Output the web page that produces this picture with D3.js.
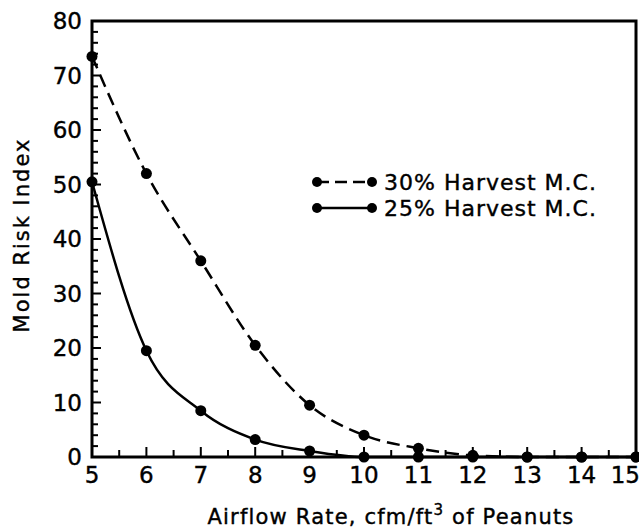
<!DOCTYPE html>
<meta charset="utf-8">
<head>
<style>
  body { margin: 0; background: #fff; }
  text { font-family: "DejaVu Sans", sans-serif; fill: #000; stroke: #000; stroke-width: 0.4px; }
  .tick-label { font-size: 23px; }
</style>
</head>
<body>
<svg id="chart"></svg>
<script src="https://d3js.org/d3.v7.min.js"></script>
<script>
// data
var airflow = [5, 6, 7, 8, 9, 10, 11, 12, 13, 14, 15];
var mc30 = [73.5, 52, 36, 20.5, 9.5, 4, 1.6, 0.3, 0, 0, 0];
var mc25 = [50.5, 19.5, 8.5, 3.2, 1.1, 0, 0, 0, 0, 0, 0];
var seriesNames = ["30% Harvest M.C.", "25% Harvest M.C."];
var yTicks = [0, 10, 20, 30, 40, 50, 60, 70, 80];
var xTicks = [5, 6, 7, 8, 9, 10, 11, 12, 13, 14, 15];

var W = 639, H = 529;
var margin = {top: 21, right: 3, bottom: 72, left: 92};
var width = W - margin.left - margin.right,
    height = H - margin.top - margin.bottom;

var svg = d3.select("#chart").attr("width", W).attr("height", H);
var g = svg.append("g").attr("transform", "translate(" + margin.left + "," + margin.top + ")");

var x = d3.scaleLinear().domain([5, 15]).range([0, width]);
var y = d3.scaleLinear().domain([0, 80]).range([height, 0]);

// minor ticks (inward)
var yMinor = d3.range(0, 81, 2);
g.selectAll(".ymin").data(yMinor).enter().append("line")
  .attr("x1", 0).attr("x2", function(d) { return d % 10 == 0 ? 9 : 6; })
  .attr("y1", function(d) { return y(d); }).attr("y2", function(d) { return y(d); })
  .attr("stroke", "#000").attr("stroke-width", 2);
var xMinor = d3.range(5, 15.01, 0.5);
g.selectAll(".xmin").data(xMinor).enter().append("line")
  .attr("y1", height).attr("y2", function(d) { return height - (d % 1 == 0 ? 10 : 7); })
  .attr("x1", function(d) { return x(d); }).attr("x2", function(d) { return x(d); })
  .attr("stroke", "#000").attr("stroke-width", 2);

// frame
g.append("rect").attr("width", width).attr("height", height)
  .attr("fill", "none").attr("stroke", "#000").attr("stroke-width", 3);

// tick labels
g.selectAll(".ylab").data(yTicks).enter().append("text")
  .attr("class", "tick-label")
  .attr("x", -10).attr("y", function(d) { return y(d) + 8; })
  .attr("text-anchor", "end").text(function(d) { return d; });
g.selectAll(".xlab").data(xTicks).enter().append("text")
  .attr("class", "tick-label")
  .attr("x", function(d) { return d == 15 ? x(d) + 4 : x(d); }).attr("y", height + 26)
  .attr("text-anchor", function(d) { return d == 15 ? "end" : "middle"; })
  .text(function(d) { return d; });

// axis titles
svg.append("text").attr("transform", "translate(29," + (margin.top + height / 2 - 4) + ") rotate(-90)")
  .attr("text-anchor", "middle").style("font-size", "21px").style("letter-spacing", "2px")
  .text("Mold Risk Index");
var xt = svg.append("text").attr("x", 391).attr("y", 524)
  .attr("text-anchor", "middle").style("font-size", "21px").style("letter-spacing", "1.2px");
xt.append("tspan").text("Airflow Rate, cfm/ft");
xt.append("tspan").attr("dy", -9).style("font-size", "15px").text("3");
xt.append("tspan").attr("dy", 9).text(" of Peanuts");

// curves
var line = d3.line()
  .x(function(d) { return x(d[0]); })
  .y(function(d) { return y(d[1]); })
  .curve(d3.curveMonotoneX);

var series = [
  {name: seriesNames[0], values: airflow.map(function(a, i) { return [a, mc30[i]]; }), dash: "13,7"},
  {name: seriesNames[1], values: airflow.map(function(a, i) { return [a, mc25[i]]; }), dash: null}
];

series.forEach(function(s) {
  g.append("path").datum(s.values).attr("d", line)
    .attr("fill", "none").attr("stroke", "#000").attr("stroke-width", 2.5)
    .attr("stroke-dasharray", s.dash);
  g.selectAll(null).data(s.values).enter().append("circle")
    .attr("cx", function(d) { return x(d[0]); })
    .attr("cy", function(d) { return y(d[1]); })
    .attr("r", 5.5).attr("fill", "#000");
});

// legend
var legend = svg.append("g");
series.forEach(function(s, i) {
  var ly = 182 + i * 26;
  legend.append("line").attr("x1", 317).attr("x2", 372).attr("y1", ly).attr("y2", ly)
    .attr("stroke", "#000").attr("stroke-width", 2.5).attr("stroke-dasharray", s.dash ? "12,6" : null);
  legend.append("circle").attr("cx", 317).attr("cy", ly).attr("r", 5);
  legend.append("circle").attr("cx", 372).attr("cy", ly).attr("r", 5);
  legend.append("text").attr("x", 384).attr("y", ly + 8).style("font-size", "22px")
    .style("letter-spacing", "1px").text(s.name);
});
</script>
</body>
